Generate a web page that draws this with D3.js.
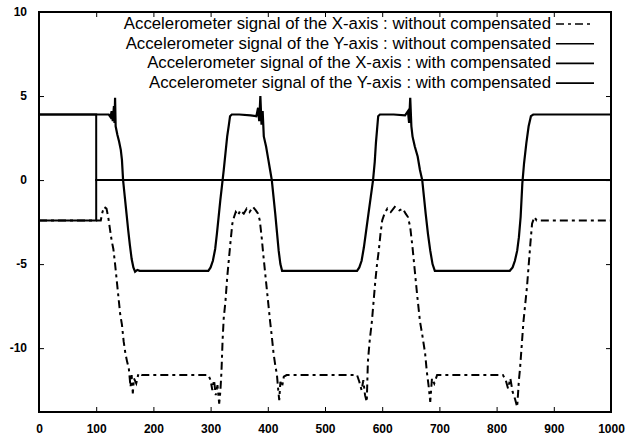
<!DOCTYPE html>
<html>
<head>
<meta charset="utf-8">
<script src="https://cdn.jsdelivr.net/npm/d3@7"></script>
<style>
  body { margin: 0; background: #fff; }
  svg  { display: block; font-family: "Liberation Sans", Arial, sans-serif; }
</style>
</head>
<body>
<svg id="chart" width="631" height="439"></svg>
<script>
/* global d3 */

var xTicks = [0, 100, 200, 300, 400, 500, 600, 700, 800, 900, 1000];
var yTicks = [-10, -5, 0, 5, 10];

var legendLabels = [
  'Accelerometer signal of the X-axis : without compensated',
  'Accelerometer signal of the Y-axis : without compensated',
  'Accelerometer signal of the X-axis : with compensated',
  'Accelerometer signal of the Y-axis : with compensated'
];

// [sample, value]
var xWithout = [
  [0,-2.4],[108,-2.4],[111,-1.9],[114,-1.6],[118,-1.7],[121,-2.2],[124,-2.9],[127,-3.6],
  [130,-4.1],[133,-5.0],[136,-6.0],[139,-7.0],[142,-8.0],[145,-8.6],[148,-9.6],[151,-10.3],
  [154,-10.8],[157,-11.2],[160,-12.3],[162,-11.6],[164,-12.7],[166,-11.8],[170,-12.1],[174,-11.5],
  [180,-11.6],[296,-11.6],[300,-11.9],[303,-12.5],[306,-11.9],[309,-12.8],[312,-12.2],[315,-13.3],
  [317,-12.6],[319,-11.4],[321,-9.5],[323,-8.2],[326,-7.2],[329,-5.8],[332,-4.7],[335,-3.6],
  [338,-2.6],[341,-2.2],[344,-1.9],[348,-2.1],[352,-1.8],[358,-2.0],[363,-1.7],[368,-1.9],
  [374,-1.6],[379,-1.8],[383,-2.0],[386,-2.4],[389,-3.3],[392,-4.4],[395,-5.4],[398,-6.4],
  [401,-7.4],[404,-8.4],[407,-9.3],[410,-10.3],[413,-11.0],[416,-11.6],[418,-12.4],[420,-13.1],
  [422,-12.0],[425,-12.3],[428,-11.7],[433,-11.6],[556,-11.6],[560,-12.0],[564,-12.5],[567,-11.9],
  [570,-12.8],[573,-13.2],[575,-10.8],[578,-9.6],[582,-8.4],[585,-7.2],[588,-6.0],[591,-5.0],
  [594,-4.2],[597,-3.2],[600,-2.4],[604,-2.0],[609,-1.7],[615,-1.9],[622,-1.6],[630,-1.8],
  [636,-1.7],[641,-2.0],[645,-2.2],[649,-2.8],[653,-4.0],[657,-5.4],[661,-6.8],[666,-8.4],
  [670,-9.2],[675,-10.3],[678,-11.4],[681,-12.2],[684,-13.2],[687,-11.8],[691,-12.1],[696,-11.6],
  [811,-11.6],[816,-11.9],[820,-12.4],[824,-11.8],[828,-12.6],[832,-13.0],[836,-13.5],[839,-11.9],
  [841,-11.2],[844,-9.8],[847,-8.4],[850,-7.4],[853,-6.4],[856,-5.1],[859,-3.8],[862,-2.6],
  [866,-2.2],[870,-2.4],[1000,-2.4]
];

var yWithout = [
  [0,3.9],[122,3.9],[125,3.75],[127,4.1],[129,3.5],[131,4.4],[132,3.4],[133,4.9],[134,3.2],
  [137,2.7],[140,2.3],[143,1.8],[145,1.2],[147,0.0],[150,-1.0],[153,-2.0],[156,-3.0],[159,-3.9],
  [162,-4.7],[165,-5.2],[168,-5.45],[172,-5.35],[176,-5.4],[296,-5.4],[300,-5.2],[304,-4.8],
  [308,-4.1],[311,-3.2],[314,-2.2],[317,-1.2],[320,-0.3],[323,0.6],[326,1.6],[329,2.6],[332,3.3],
  [334,3.8],[337,3.9],[350,3.9],[370,3.85],[380,3.8],[383,4.3],[385,3.5],[387,5.0],[389,3.3],
  [391,4.1],[393,2.6],[397,2.0],[401,1.2],[404,0.6],[407,0.0],[410,-1.0],[413,-2.0],[416,-3.1],
  [419,-4.2],[422,-5.0],[425,-5.4],[430,-5.4],[556,-5.4],[560,-5.2],[564,-4.8],[568,-4.0],
  [572,-3.0],[576,-2.0],[580,-1.0],[584,0.0],[587,1.1],[589,2.2],[591,3.0],[593,3.8],[596,3.9],
  [620,3.9],[640,3.85],[645,4.1],[647,3.4],[649,4.9],[651,3.2],[653,2.6],[657,2.0],[662,1.4],
  [666,0.6],[670,0.0],[673,-1.0],[676,-2.0],[680,-3.2],[684,-4.2],[688,-5.0],[692,-5.4],
  [823,-5.4],[828,-5.2],[832,-4.8],[836,-4.2],[839,-3.4],[842,-2.2],[845,-0.2],[848,1.0],
  [852,2.2],[856,3.2],[860,3.8],[864,3.9],[1000,3.9]
];

var xWith = [[0,-2.4],[100,-2.4],[100,0],[1000,0]];
var yWith = [[0,3.9],[100,3.9],[100,0],[1000,0]];

var plot = { left: 39, right: 611, top: 12, bottom: 412 };

var svg = d3.select('svg#chart');

var x = d3.scaleLinear().domain([0, 1000]).range([plot.left, plot.right]);
var y = d3.scaleLinear().domain([-13.8, 10]).range([plot.bottom, plot.top]);

var series = [
  { data: xWithout, dash: '8,4,3,4', width: 2   },
  { data: yWithout, dash: null,      width: 2.2 },
  { data: xWith,    dash: null,      width: 2   },
  { data: yWith,    dash: null,      width: 2   }
];

var line = d3.line()
  .x(function(d) { return x(d[0]); })
  .y(function(d) { return y(d[1]); })
;

svg.append('g').classed('series', true)
  .selectAll('path').data(series)
  .enter().append('path')
    .attr('d', function(s) { return line(s.data); })
    .attr('fill', 'none')
    .attr('stroke', '#000')
    .attr('stroke-width', function(s) { return s.width; })
    .attr('stroke-dasharray', function(s) { return s.dash; })
;

// gnuplot style: ticks point inward, mirrored on top/right
function styleAxis(g) {
  g.select('.domain').remove();
  g.selectAll('line').attr('stroke', '#000').attr('stroke-width', 1);
  g.selectAll('text')
    .attr('fill', '#000')
    .style('font-size', '12px')
    .style('font-weight', 'bold');
}

// plain hyphen minus, no thousands comma
function plain(d) { return String(d); }

svg.append('g')
  .attr('transform', 'translate(0,' + plot.bottom + ')')
  .call(d3.axisBottom(x).tickValues(xTicks).tickFormat(plain).tickSize(-5).tickPadding(12))
  .call(styleAxis)
;
svg.append('g')
  .attr('transform', 'translate(0,' + plot.top + ')')
  .call(d3.axisTop(x).tickValues(xTicks).tickSize(-5).tickFormat(''))
  .call(styleAxis)
;
svg.append('g')
  .attr('transform', 'translate(' + plot.left + ',0)')
  .call(d3.axisLeft(y).tickValues(yTicks).tickFormat(plain).tickSize(-5).tickPadding(12))
  .call(styleAxis)
;
svg.append('g')
  .attr('transform', 'translate(' + plot.right + ',0)')
  .call(d3.axisRight(y).tickValues(yTicks).tickSize(-5).tickFormat(''))
  .call(styleAxis)
;

svg.append('rect')
  .attr('x', plot.left)
  .attr('y', plot.top)
  .attr('width', plot.right - plot.left)
  .attr('height', plot.bottom - plot.top)
  .attr('fill', 'none')
  .attr('stroke', '#000')
  .attr('stroke-width', 2)
;

var legend = svg.append('g').classed('legend', true)
  .selectAll('g').data(legendLabels)
  .enter().append('g')
    .attr('transform', function(d, i) { return 'translate(551,' + (29 + i * 19.7) + ')'; })
;

legend.append('text')
  .attr('text-anchor', 'end')
  .style('font-size', '16.8px')
  .attr('fill', '#000')
  .text(function(d) { return d; })
;

legend.append('line')
  .attr('x1', 5).attr('x2', 43)
  .attr('y1', -5).attr('y2', -5)
  .attr('stroke', '#000')
  .attr('stroke-width', 1.6)
  .attr('stroke-dasharray', function(d, i) { return series[i].dash; })
;
</script>
</body>
</html>
